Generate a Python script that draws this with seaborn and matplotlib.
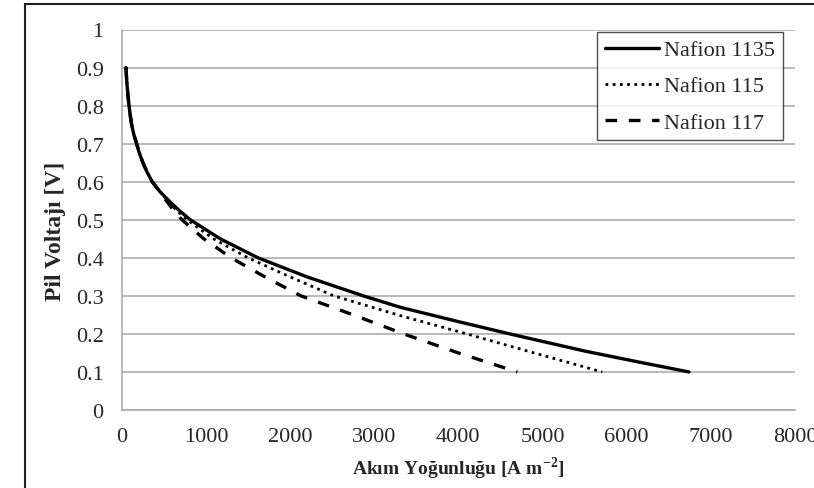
import pandas as pd
import matplotlib.pyplot as plt
import seaborn as sns
from matplotlib.patches import Rectangle

# Polarization curves (current density A/m2, voltage V)
x_top = [50, 57, 65, 75, 87, 101, 118, 143, 177, 210, 252, 302, 362, 450]
v_top = [0.90, 0.875, 0.85, 0.825, 0.80, 0.775, 0.75, 0.725, 0.70, 0.675, 0.65, 0.625, 0.60, 0.575]

x_1135 = x_top + [560, 680, 815, 1170, 1620, 2200, 2870, 3310, 3950, 4610, 5500, 6100, 6740]
v_1135 = v_top + [0.55, 0.525, 0.50, 0.45, 0.40, 0.35, 0.30, 0.27, 0.235, 0.20, 0.155, 0.128, 0.10]

x_115 = x_top + [545, 650, 775, 1090, 1500, 2000, 2520, 3310, 4100, 4900, 5710]
v_115 = v_top + [0.55, 0.525, 0.50, 0.45, 0.40, 0.35, 0.30, 0.248, 0.20, 0.15, 0.10]

x_117 = x_top + [530, 615, 715, 975, 1300, 1700, 2130, 2750, 3350, 4000, 4700]
v_117 = v_top + [0.55, 0.525, 0.50, 0.45, 0.40, 0.35, 0.30, 0.25, 0.20, 0.15, 0.10]

labels = ['Nafion 1135', 'Nafion 115', 'Nafion 117']

sns.set_style('white')
plt.rcParams['font.family'] = ['Liberation Serif', 'DejaVu Serif']
plt.rcParams['mathtext.fontset'] = 'custom'
plt.rcParams['mathtext.rm'] = 'Liberation Serif'
plt.rcParams['mathtext.bf'] = 'Liberation Serif:bold'

fig = plt.figure(figsize=(8.14, 4.89), dpi=100)
ax = fig.add_axes([121.7 / 814, 1 - 411 / 489, (795 - 121.7) / 814, (411 - 30.5) / 489])

# outer chart frame (only top/left visible in the original crop)
fig.patches.append(Rectangle((25 / 814, -0.1), 1.2, 1 - 5 / 489 + 0.1, transform=fig.transFigure,
                             fill=False, edgecolor='#222222', linewidth=1.5, zorder=0))

df1 = pd.DataFrame({'x': x_1135, 'v': v_1135})
df2 = pd.DataFrame({'x': x_115, 'v': v_115})
df3 = pd.DataFrame({'x': x_117, 'v': v_117})

sns.lineplot(data=df1, x='x', y='v', ax=ax, sort=False, color='black', linewidth=2.4, label=labels[0])
sns.lineplot(data=df2, x='x', y='v', ax=ax, sort=False, color='black', linewidth=2.0,
             linestyle=(0, (1, 1.6)), label=labels[1])
sns.lineplot(data=df3, x='x', y='v', ax=ax, sort=False, color='black', linewidth=2.4,
             linestyle=(0, (3.5, 3.5)), label=labels[2])

ax.set_xlim(0, 8000)
ax.set_ylim(0, 1)
ax.set_xticks(range(0, 8001, 1000))
ax.set_yticks([i / 10 for i in range(11)])
ax.set_yticklabels(['0', '0.1', '0.2', '0.3', '0.4', '0.5', '0.6', '0.7', '0.8', '0.9', '1'])

ax.grid(axis='y', color='#a6a6a6', linewidth=1.1)
ax.set_axisbelow(True)
for s in ['top', 'right']:
    ax.spines[s].set_visible(False)
for s in ['left', 'bottom']:
    ax.spines[s].set_color('#a6a6a6')
    ax.spines[s].set_linewidth(1.1)

ax.tick_params(axis='x', direction='out', length=5, color='#a6a6a6', labelsize=16, pad=7)
ax.tick_params(axis='y', direction='out', length=5, color='#a6a6a6', labelsize=16, pad=8)

ax.set_xlabel('Akım Yoğunluğu [A m$^{\\mathbf{-2}}$]', fontsize=14, fontweight='bold')
ax.set_ylabel('Pil Voltajı [V]', fontsize=17, fontweight='bold')
ax.xaxis.set_label_coords(0.5, (411 - 469) / 380.5)
ax.yaxis.set_label_coords((55 - 121.7) / 673.3, (411 - 231) / 380.5)
ax.xaxis.label.set_verticalalignment('center')
ax.yaxis.label.set_verticalalignment('center')

leg = ax.legend(loc='upper right', bbox_to_anchor=(783 / 814, 1 - 33 / 489), bbox_transform=fig.transFigure,
                fontsize=16, frameon=True, fancybox=False, handlelength=2.45, handletextpad=0.22,
                labelspacing=0.7, borderpad=0.35, borderaxespad=0)
leg.get_frame().set_edgecolor('#222222')
leg.get_frame().set_linewidth(1.0)

fig.savefig('out.png', dpi=100)
